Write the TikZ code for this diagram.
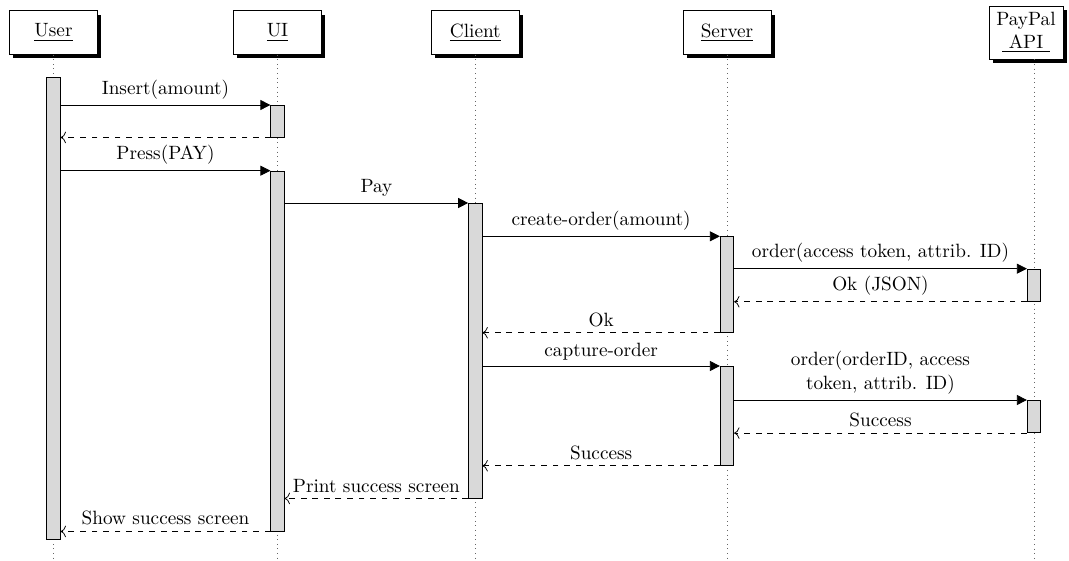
\documentclass[tikz,border=0pt]{standalone}
\usetikzlibrary{arrows.meta,shadows}
\begin{document}
\begin{tikzpicture}[x=0.52pt,y=-0.52pt,
  thread/.style={draw, fill=white, line width=0.4pt, inner sep=3.3pt,
    minimum width=45.8pt, minimum height=22.6pt, align=center,
    drop shadow={fill=black, opacity=1, shadow xshift=2pt, shadow yshift=-2.2pt}},
  lifeline/.style={dotted, black!60},
  act/.style={draw, fill=gray!30, line width=0.4pt, minimum width=7pt,
    inner sep=0pt, anchor=north},
  span/.style={minimum height=#1*0.52pt},
  call/.style={line width=0.4pt, -{Triangle[length=5.2pt,width=5.2pt]}},
  reply/.style={line width=0.4pt, dashed, -{To[length=2.8pt,width=6pt]}},
  msg/.style={midway, above, inner sep=3pt, align=center}
]
\useasboundingbox (0,0) rectangle (1069,561);
\coordinate (bottom) at (0,561);

% participants
\node[thread] (user)   at (53.5,32.5)  {\underline{User}};
\node[thread] (ui)     at (277.5,32.5) {\underline{UI}};
\node[thread] (client) at (475.3,32.5) {\underline{Client}};
\node[thread] (server) at (727,32.5)   {\underline{Server}};
\node[thread, minimum width=38.5pt] (api) at (1026,32.5) {PayPal\\\underline{~API~}};
\coordinate (apiline) at (1034,0);

% lifelines
\draw[lifeline] (user.south) -- (user.south |- bottom);
\draw[lifeline] (ui.south) -- (ui.south |- bottom);
\draw[lifeline] (client.south) -- (client.south |- bottom);
\draw[lifeline] (server.south) -- (server.south |- bottom);
\draw[lifeline] (apiline |- api.south) -- (apiline |- bottom);

% activations
\node[act, span=462.3] (actU)   at (53.5,76.7)  {};
\node[act, span=31.7]  (actUIa) at (277.5,105)  {};
\node[act, span=360]   (actUIb) at (277.5,170.7) {};
\node[act, span=294.7] (actC)   at (475.3,203)  {};
\node[act, span=95.7]  (actSa)  at (727,236.3)  {};
\node[act, span=99]    (actSb)  at (727,366)    {};
\node[act, span=32.3]  (actPa)  at (1034,268.7) {};
\node[act, span=32.3]  (actPb)  at (1034,400)   {};

% messages
\draw[call] (actU.east |- actUIa.north) -- (actUIa.north west) node[msg] {Insert(amount)};
\draw[reply] (actUIa.south west) -- (actU.east |- actUIa.south);
\draw[call] (actU.east |- actUIb.north) -- (actUIb.north west) node[msg] {Press(PAY)};
\draw[call] (actUIb.east |- actC.north) -- (actC.north west) node[msg] {Pay};
\draw[call] (actC.east |- actSa.north) -- (actSa.north west) node[msg] {create-order(amount)};
\draw[call] (actSa.east |- actPa.north) -- (actPa.north west) node[msg] {order(access token, attrib. ID)};
\draw[reply] (actPa.south west) -- (actSa.east |- actPa.south) node[msg] {Ok (JSON)};
\draw[reply] (actSa.south west) -- (actC.east |- actSa.south) node[msg] {Ok};
\draw[call] (actC.east |- actSb.north) -- (actSb.north west) node[msg] {capture-order};
\draw[call] (actSb.east |- actPb.north) -- (actPb.north west) node[msg] {order(orderID, access\\token, attrib. ID)};
\draw[reply] (actPb.south west) -- (actSb.east |- actPb.south) node[msg] {Success};
\draw[reply] (actSb.south west) -- (actC.east |- actSb.south) node[msg] {Success};
\draw[reply] (actC.south west) -- (actUIb.east |- actC.south) node[msg] {Print success screen};
\draw[reply] (actUIb.south west) -- (actU.east |- actUIb.south) node[msg] {Show success screen};
\end{tikzpicture}
\end{document}
